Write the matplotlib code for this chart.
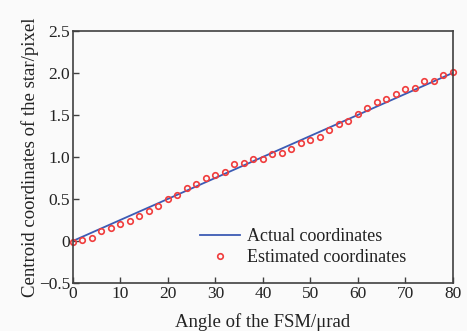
import numpy as np
import matplotlib
matplotlib.use('Agg')
import matplotlib.pyplot as plt

plt.rcParams['font.family'] = ['Liberation Serif', 'DejaVu Serif']
plt.rcParams['mathtext.fontset'] = 'stix'

# actual (ideal) line
actual_x = [0, 80]
actual_y = [0.0, 2.0]

# estimated centroid coordinates
angle = [0, 2, 4, 6, 8, 10, 12, 14, 16, 18, 20, 22, 24, 26, 28, 30, 32, 34, 36, 38,
         40, 42, 44, 46, 48, 50, 52, 54, 56, 58, 60, 62, 64, 66, 68, 70, 72, 74, 76, 78, 80]
estimated = [-0.01, 0.01, 0.04, 0.12, 0.15, 0.20, 0.24, 0.30, 0.36, 0.42, 0.50, 0.55, 0.63,
             0.68, 0.75, 0.79, 0.82, 0.91, 0.93, 0.98, 0.98, 1.03, 1.05, 1.09, 1.17, 1.20,
             1.24, 1.32, 1.39, 1.43, 1.51, 1.58, 1.65, 1.69, 1.75, 1.81, 1.82, 1.90, 1.90,
             1.97, 2.01]

xticks = [0, 10, 20, 30, 40, 50, 60, 70, 80]
yticks = [-0.5, 0, 0.5, 1.0, 1.5, 2.0, 2.5]
ytick_labels = ['\u22120.5', '0', '0.5', '1.0', '1.5', '2.0', '2.5']

fig = plt.figure(figsize=(4.67, 3.31), dpi=100)
fig.patch.set_facecolor('#fafafa')
ax = fig.add_axes([0.156, 0.145, 0.814, 0.762])
ax.set_facecolor('#fafafa')

ax.plot(actual_x, actual_y, color='#3c5bb4', lw=1.3, label='Actual coordinates')
ax.plot(angle, estimated, 'o', ls='none', mfc='none', mec='#f03c3c', mew=1.2, ms=4,
        label='Estimated coordinates', clip_on=False)

ax.set_xlim(0, 80)
ax.set_ylim(-0.5, 2.5)
ax.set_xticks(xticks)
ax.set_yticks(yticks)
ax.set_yticklabels(ytick_labels)

for s in ax.spines.values():
    s.set_color('#404040')
    s.set_linewidth(1.2)

ax.tick_params(direction='in', length=4, width=1, colors='#404040', labelsize=12.5,
               labelcolor='#222222', pad=2)

ax.set_xlabel('Angle of the FSM/\u03bcrad', fontsize=13.5, color='#222222', labelpad=8)
ax.set_ylabel('Centroid coordinates of the star/pixel', fontsize=13.5, color='#222222', labelpad=0)

leg = ax.legend(loc='lower right', frameon=False, fontsize=13, handlelength=2.2,
                handletextpad=0.4, labelspacing=0.25, borderaxespad=0.8,
                bbox_to_anchor=(0.935, -0.02))
for t in leg.get_texts():
    t.set_color('#222222')

fig.savefig('out.png', dpi=100, facecolor=fig.get_facecolor())
